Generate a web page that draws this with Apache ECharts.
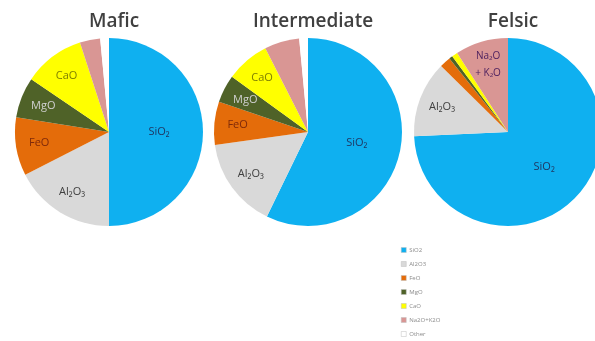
<!DOCTYPE html>
<html>
<head>
<meta charset="utf-8">
<script src="https://cdn.jsdelivr.net/npm/echarts@6/dist/echarts.min.js"></script>
<style>
  html, body { margin: 0; padding: 0; background: #ffffff; }
  #chart { width: 595px; height: 341px; }
</style>
</head>
<body>
<div id="chart"></div>
<script>
// ---- Data (percent of rock composition) ----
const categories = ["SiO2", "Al2O3", "FeO", "MgO", "CaO", "Na2O+K2O", "Other"];
const titles = ["Mafic", "Intermediate", "Felsic"];
const mafic = [50.0, 17.5, 10.0, 7.0, 10.5, 3.5, 1.5];
const intermediate = [57.2, 15.6, 7.4, 4.8, 7.5, 6.0, 1.5];
const felsic = [74.2, 13.1, 1.9, 0.6, 1.0, 9.1, 0];
const maficLabels = ["SiO₂", "Al₂O₃", "FeO", "MgO", "CaO", "", ""];
const intermediateLabels = ["SiO₂", "Al₂O₃", "FeO", "MgO", "CaO", "", ""];
const felsicLabels = ["SiO₂", "Al₂O₃", "", "", "", "Na₂O\n+ K₂O", ""];

// ---- Styles ----
const colors = ["#0fb0f0", "#d9d9d9", "#e46c0a", "#4f6228", "#ffff00", "#d99694", "#ffffff"];
const labelColors = ["#1f3864", "#404040", "#7f2a0a", "#d0d0d0", "#7f7f00", "#4b1f5e", "#404040"];
const centersX = [109, 308, 508];
const centerY = 132;
const R = 94;
const FONT = "Open Sans";

const datasets = [mafic, intermediate, felsic];
const labelSets = [maficLabels, intermediateLabels, felsicLabels];

const series = [];
datasets.forEach(function (vals, k) {
  const lbls = labelSets[k];
  // main pie (shows SiO2 label at mid radius)
  series.push({
    type: 'pie',
    name: titles[k],
    center: [centersX[k], centerY],
    radius: [0, R],
    startAngle: 90,
    clockwise: true,
    avoidLabelOverlap: false,
    labelLine: { show: false },
    emphasis: { disabled: true },
    data: vals.map(function (v, i) {
      return {
        name: categories[i],
        value: v,
        itemStyle: { color: colors[i] },
        label: {
          show: i === 0 && lbls[i] !== "",
          position: 'inside',
          formatter: lbls[i],
          color: labelColors[i],
          fontFamily: FONT,
          fontSize: 11
        }
      };
    })
  });
  // invisible overlay pie that only carries the outer labels
  series.push({
    type: 'pie',
    name: titles[k] + ' labels',
    center: [centersX[k], centerY],
    radius: [0, R * 1.44],
    startAngle: 90,
    clockwise: true,
    silent: true,
    avoidLabelOverlap: false,
    labelLine: { show: false },
    emphasis: { disabled: true },
    itemStyle: { color: 'rgba(0,0,0,0)' },
    data: vals.map(function (v, i) {
      return {
        name: categories[i],
        value: v,
        itemStyle: { color: 'rgba(0,0,0,0)' },
        label: {
          show: i !== 0 && lbls[i] !== "",
          position: 'inside',
          formatter: lbls[i],
          color: labelColors[i],
          fontFamily: FONT,
          fontSize: i === 5 ? 10 : 11,
          lineHeight: 17
        }
      };
    })
  });
});

const chart = echarts.init(document.getElementById('chart'), null, { renderer: 'canvas' });
chart.setOption({
  backgroundColor: '#ffffff',
  animation: false,
  color: colors,
  title: titles.map(function (t, k) {
    return {
      text: t,
      left: centersX[k],
      top: 7,
      textAlign: 'center',
      textStyle: { fontFamily: FONT, fontSize: 19, fontWeight: 600, color: '#404040' }
    };
  }),
  legend: {
    orient: 'vertical',
    left: 401,
    top: 246,
    height: 100,
    itemWidth: 5,
    itemHeight: 5,
    itemGap: 6,
    padding: 0,
    icon: 'rect',
    data: categories,
    itemStyle: { borderColor: '#bfbfbf', borderWidth: 0.5 },
    textStyle: { fontFamily: FONT, fontSize: 6, lineHeight: 8, color: '#8c8c8c', padding: [0, 0, 0, -2] }
  },
  series: series
});
</script>
</body>
</html>
